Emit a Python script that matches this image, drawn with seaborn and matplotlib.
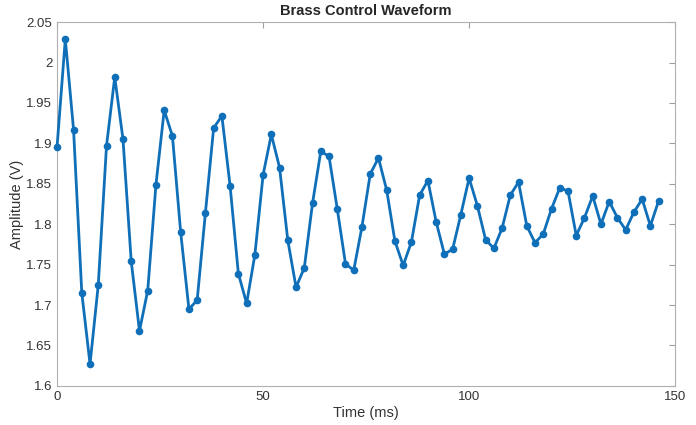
import matplotlib
matplotlib.use("Agg")
import matplotlib.pyplot as plt
import numpy as np
import pandas as pd
import seaborn as sns
from matplotlib.ticker import FuncFormatter

# sample times (ms), one every 2 ms
time_ms = list(range(0, 148, 2))

amplitude = [
    1.896, 2.029, 1.917, 1.715, 1.627, 1.725, 1.897, 1.982, 1.905, 1.754,
    1.668, 1.718, 1.849, 1.941, 1.909, 1.790, 1.695, 1.706, 1.814, 1.919,
    1.934, 1.847, 1.739, 1.702, 1.762, 1.861, 1.911, 1.870, 1.780, 1.722,
    1.746, 1.826, 1.890, 1.884, 1.819, 1.751, 1.743, 1.797, 1.862, 1.882,
    1.842, 1.779, 1.749, 1.778, 1.836, 1.854, 1.803, 1.763, 1.769, 1.812,
    1.857, 1.823, 1.781, 1.770, 1.795, 1.836, 1.852, 1.798, 1.777, 1.788,
    1.819, 1.845, 1.841, 1.786, 1.808, 1.835, 1.800, 1.828, 1.808, 1.793,
    1.815, 1.831, 1.798, 1.829,
]

x_ticks = [0, 50, 100, 150]
y_ticks = [1.6, 1.65, 1.7, 1.75, 1.8, 1.85, 1.9, 1.95, 2.0, 2.05]

df = pd.DataFrame({"Time (ms)": time_ms, "Amplitude (V)": amplitude})

sns.set_style("white")
plt.rcParams["font.family"] = ["Liberation Sans", "DejaVu Sans"]

fig = plt.figure(figsize=(6.96, 4.25), dpi=100)
ax = fig.add_axes([0.082, 0.092, 0.888, 0.856])

sns.lineplot(data=df, x="Time (ms)", y="Amplitude (V)", ax=ax,
             color="#0f6fb8", linewidth=2, marker="o", markersize=5.5,
             markeredgewidth=0, clip_on=False, zorder=3)

ax.set_xlim(0, 150)
ax.set_ylim(1.6, 2.05)
ax.set_xticks(x_ticks)
ax.set_yticks(y_ticks)
ax.yaxis.set_major_formatter(FuncFormatter(lambda v, p: "%g" % round(v, 2)))
ax.tick_params(direction="in", length=4, color="#a0a0a0", labelsize=9.5,
               labelcolor="#333333", top=True, right=True)

for s in ax.spines.values():
    s.set_color("#b0b0b0")
    s.set_linewidth(0.8)

ax.set_title("Brass Control Waveform", fontsize=10.5, fontweight="bold", pad=5)
ax.set_xlabel("Time (ms)", fontsize=10.5, color="#333333", labelpad=2)
ax.set_ylabel("Amplitude (V)", fontsize=10.5, color="#333333", labelpad=2)

fig.savefig("out.png", dpi=100)
